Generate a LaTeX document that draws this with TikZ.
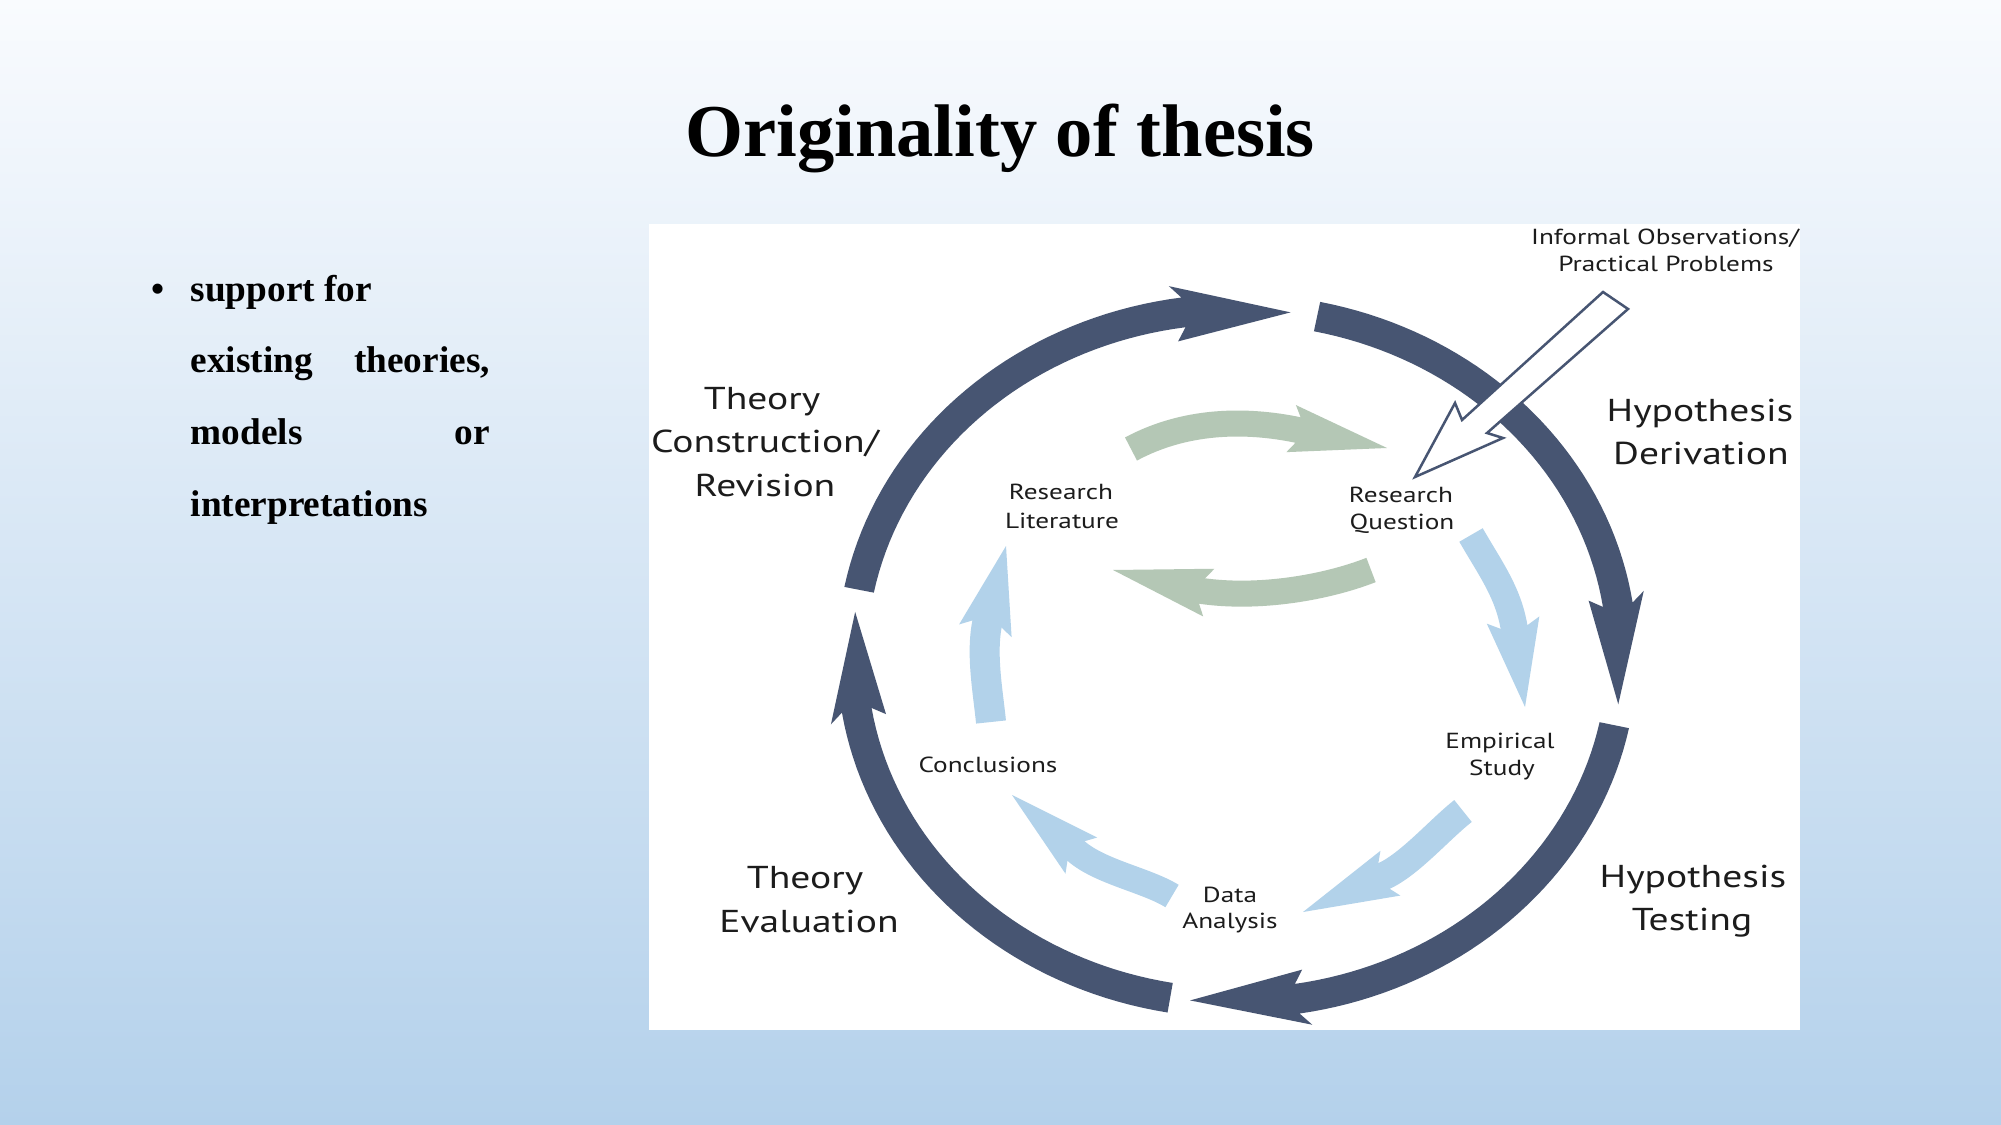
\documentclass[tikz,border=0pt]{standalone}
\usepackage{fontspec}
\setmainfont{Liberation Serif}
\newfontfamily\labfont[FakeStretch=1.25]{PT Sans}
\usetikzlibrary{calc}
\definecolor{navyarc}{RGB}{71,85,114}
\definecolor{sage}{RGB}{180,199,181}
\definecolor{skyarr}{RGB}{178,210,234}
\definecolor{bgtop}{RGB}{249,251,254}
\definecolor{bgbot}{RGB}{180,209,235}
\definecolor{labtext}{RGB}{28,28,28}
\def\ecx{1237}\def\ecy{656}\def\erx{385}\def\ery{347}
% dark ring segment: #1 start angle, #2 head base angle, #3 tip angle, #4 barb angle
\newcommand\darkseg[4]{%
  \fill[navyarc] plot[domain=#1:#2,samples=40] ({\ecx+(\erx+15)*cos(\x)},{\ecy-(\ery+15)*sin(\x)})
   -- ({\ecx+(\erx+28)*cos(#4)},{\ecy-(\ery+28)*sin(#4)})
   -- ({\ecx+\erx*cos(#3)},{\ecy-\ery*sin(#3)})
   -- ({\ecx+(\erx-28)*cos(#4)},{\ecy-(\ery-28)*sin(#4)})
   -- plot[domain=#2:#1,samples=40] ({\ecx+(\erx-15)*cos(\x)},{\ecy-(\ery-15)*sin(\x)})
   -- cycle;}
% arrow head: #1 colour, #2 base, #3 tip, #4 half head width, #5 half shaft width
\newcommand\arrhead[5]{%
  \coordinate (ahbk) at ($(#2)!-0.07cm!(#3)$);
  \fill[#1] ($(#2)!#5!90:(#3)$) -- ($(ahbk)!#4!90:(#3)$) -- (#3)
    -- ($(ahbk)!#4!-90:(#3)$) -- ($(#2)!#5!-90:(#3)$) -- cycle;}
\tikzset{
  lab/.style={font=\labfont\fontsize{9}{11}\selectfont, text=labtext, anchor=base, inner sep=0pt},
  slab/.style={font=\labfont\fontsize{6.2}{8}\selectfont, text=labtext, anchor=base, inner sep=0pt},
  bul/.style={font=\bfseries\fontsize{10.6}{13}\selectfont, anchor=base west, inner sep=0pt},
  shaft/.style={line width=#1, line cap=butt},
}
\begin{document}
\begin{tikzpicture}[x=0.01cm,y=-0.01cm]
\useasboundingbox (0,0) rectangle (2001,1125);
\shade[top color=bgtop,bottom color=bgbot] (0,0) rectangle (2001,1125);
\fill[white] (649,224) rectangle (1800,1030);

% title and bullet text
\node[anchor=base, inner sep=0pt, font=\bfseries\fontsize{21.2}{25}\selectfont] (title) at (1000,157) {Originality of thesis};
\node[bul, anchor=base] (dot) at (158,302) {\textbullet};
\node[bul] (b1) at (190,302) {support for};
\node[bul] (b2) at (190,373) {\makebox[2.99cm][s]{existing theories,}};
\node[bul] (b3) at (190,445) {\makebox[2.99cm][s]{models or}};
\node[bul] (b4) at (190,517) {interpretations};

% green arrows
\coordinate (g1s) at (1131,449); \coordinate (g1b) at (1298,430); \coordinate (g1t) at (1387,448);
\draw[sage, shaft=0.26cm] (g1s) .. controls (1185,420) and (1245,419) .. (g1b) -- ($(g1b)!0.08cm!(g1t)$);
\arrhead{sage}{g1b}{g1t}{0.24cm}{0.13cm}
\coordinate (g2s) at (1371,570); \coordinate (g2b) at (1202,591); \coordinate (g2t) at (1113,570);
\draw[sage, shaft=0.26cm] (g2s) .. controls (1325,588) and (1258,599) .. (g2b) -- ($(g2b)!0.08cm!(g2t)$);
\arrhead{sage}{g2b}{g2t}{0.245cm}{0.13cm}

% light blue arrows
\coordinate (l1s) at (1471,535); \coordinate (l1b) at (1514,627); \coordinate (l1t) at (1525,707);
\draw[skyarr, shaft=0.27cm] (l1s) .. controls (1490,568) and (1508,592) .. (l1b) -- ($(l1b)!0.08cm!(l1t)$);
\arrhead{skyarr}{l1b}{l1t}{0.265cm}{0.135cm}
\coordinate (l2s) at (1463,811); \coordinate (l2b) at (1384,876); \coordinate (l2t) at (1303,912);
\draw[skyarr, shaft=0.28cm] (l2s) .. controls (1440,829) and (1410,864) .. (l2b) -- ($(l2b)!0.08cm!(l2t)$);
\arrhead{skyarr}{l2b}{l2t}{0.245cm}{0.14cm}
\coordinate (l3s) at (1172,896); \coordinate (l3b) at (1076,851); \coordinate (l3t) at (1012,795);
\draw[skyarr, shaft=0.26cm] (l3s) .. controls (1146,880) and (1100,872) .. (l3b) -- ($(l3b)!0.08cm!(l3t)$);
\arrhead{skyarr}{l3b}{l3t}{0.24cm}{0.13cm}
\coordinate (l4s) at (991,722); \coordinate (l4b) at (987,624); \coordinate (l4t) at (1006,546);
\draw[skyarr, shaft=0.30cm] (l4s) .. controls (988,692) and (981,655) .. (l4b) -- ($(l4b)!0.08cm!(l4t)$);
\arrhead{skyarr}{l4b}{l4t}{0.27cm}{0.15cm}

% dark outer cycle
\darkseg{169}{98}{82}{99.5}
\darkseg{78}{8.5}{-8}{10}
\darkseg{-11.5}{-81}{-97}{-79.5}
\darkseg{260}{189}{172.7}{190.5}

% hollow input arrow
\coordinate (h1) at (1603,292); \coordinate (h2) at (1628,309);
\coordinate (hn1) at (1462,420); \coordinate (hb1) at (1455,403);
\coordinate (htip) at (1415,477);
\coordinate (hb2) at (1503,438); \coordinate (hn2) at (1487,433);
\draw[navyarc, fill=white, line width=0.025cm, line join=miter]
  (h1) -- (hn1) -- (hb1) -- (htip) -- (hb2) -- (hn2) -- (h2) -- cycle;

% labels
\node[slab] (io1) at (1665,245) {Informal Observations/};
\node[slab] (io2) at (1666,272) {Practical Problems};
\node[lab] (hd1) at (1700,422) {Hypothesis};
\node[lab] (hd2) at (1701,465) {Derivation};
\node[lab] (ht1) at (1693,887) {Hypothesis};
\node[lab] (ht2) at (1692,930) {Testing};
\node[lab] (tc1) at (762,410) {Theory};
\node[lab] (tc2) at (765,453) {Construction/};
\node[lab] (tc3) at (765,497) {Revision};
\node[lab] (te1) at (805,888) {Theory};
\node[lab] (te2) at (809,932) {Evaluation};
\node[slab] (rl1) at (1061,500) {Research};
\node[slab] (rl2) at (1062,528) {Literature};
\node[slab] (rq1) at (1401,503) {Research};
\node[slab] (rq2) at (1402,530) {Question};
\node[slab] (es1) at (1500,748) {Empirical};
\node[slab] (es2) at (1502,775) {Study};
\node[slab] (da1) at (1230,902) {Data};
\node[slab] (da2) at (1230,928) {Analysis};
\node[slab] (cc) at (988,772) {Conclusions};
\end{tikzpicture}
\end{document}
